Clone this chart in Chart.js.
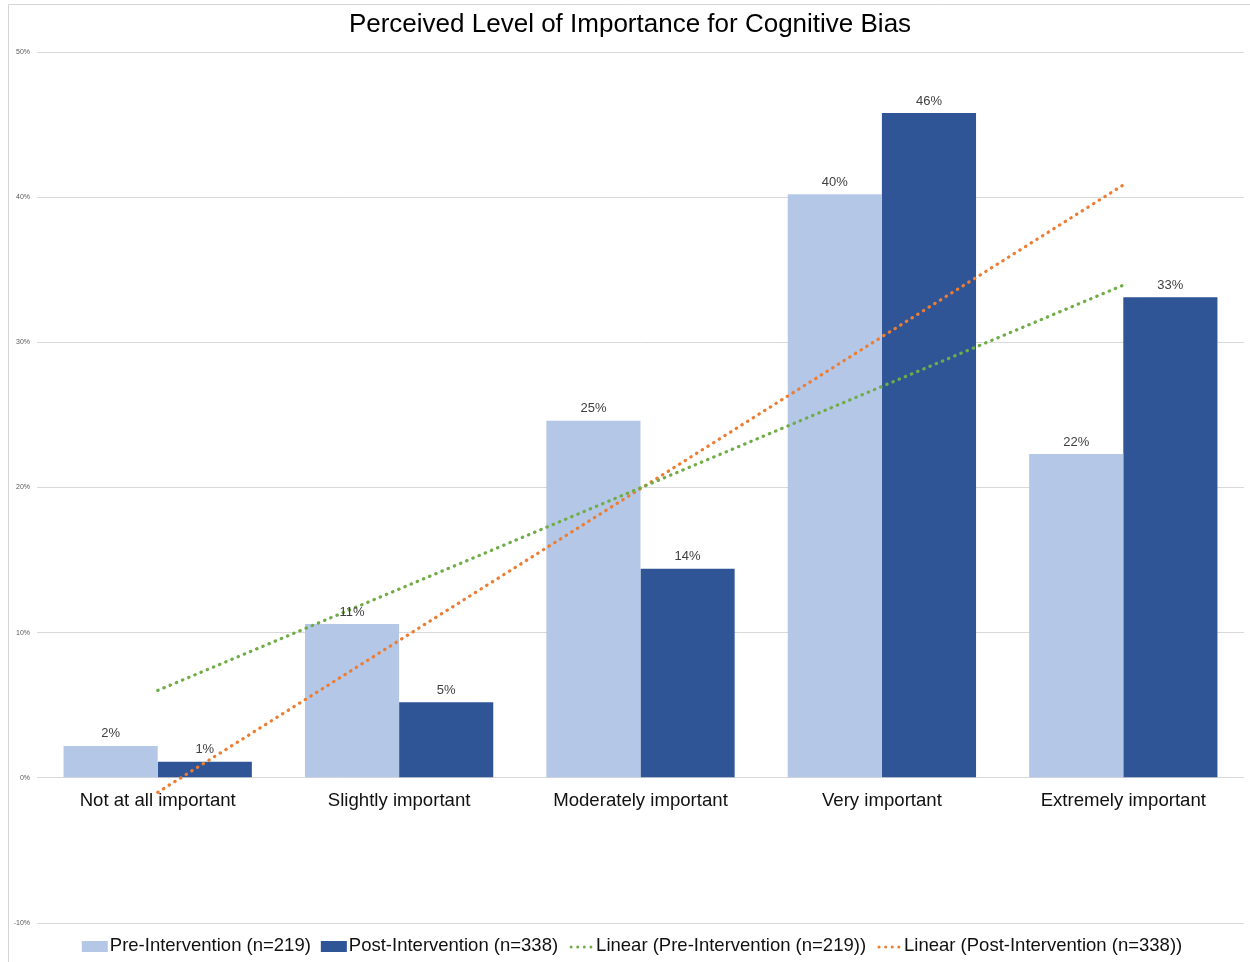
<!DOCTYPE html>
<html>
<head>
<meta charset="utf-8">
<script src="https://cdn.jsdelivr.net/npm/chart.js@4.4.1/dist/chart.umd.min.js"></script>
<style>
  html, body { margin: 0; padding: 0; background: #ffffff; }
  #wrap { width: 1250px; height: 962px; position: relative; }
</style>
</head>
<body>
<div id="wrap"><canvas id="chart" width="1250" height="962"></canvas></div>
<script>
// Survey answers, share of respondents (%)
const categories = ['Not at all important', 'Slightly important', 'Moderately important', 'Very important', 'Extremely important'];
const preValues = [2.2, 10.6, 24.6, 40.2, 22.3];
const postValues = [1.1, 5.2, 14.4, 45.8, 33.1];
const seriesNames = ['Pre-Intervention (n=219)', 'Post-Intervention (n=338)'];
const trendNames = ['Linear (Pre-Intervention (n=219))', 'Linear (Post-Intervention (n=338))'];
const yTicks = [-10, 0, 10, 20, 30, 40, 50];
const chartTitle = 'Perceived Level of Importance for Cognitive Bias';

const FONT = '"Liberation Sans", Arial, Helvetica, sans-serif';
const colors = {
  pre: '#B4C7E7',
  post: '#2F5597',
  preTrend: '#70AD47',
  postTrend: '#ED7D31'
};

// Least-squares line over category positions 1..n
function linearTrend(vals) {
  const n = vals.length;
  const xs = vals.map((_, i) => i + 1);
  const mx = xs.reduce((a, b) => a + b, 0) / n;
  const my = vals.reduce((a, b) => a + b, 0) / n;
  let sxy = 0, sxx = 0;
  xs.forEach((x, i) => { sxy += (x - mx) * (vals[i] - my); sxx += (x - mx) * (x - mx); });
  const slope = sxy / sxx;
  const icpt = my - slope * mx;
  return xs.map(x => icpt + slope * x);
}

// Outer frame lines of the chart box, plus the heading
const framePlugin = {
  id: 'frame',
  beforeDraw(chart) {
    const ctx = chart.ctx;
    ctx.save();
    ctx.strokeStyle = '#d4d4d4';
    ctx.lineWidth = 1;
    ctx.beginPath();
    ctx.moveTo(8.5, 962);
    ctx.lineTo(8.5, 4.5);
    ctx.lineTo(1250, 4.5);
    ctx.stroke();
    ctx.font = '26px ' + FONT;
    ctx.fillStyle = '#000000';
    ctx.textAlign = 'center';
    ctx.textBaseline = 'middle';
    ctx.fillText(chartTitle, 630, 25);
    ctx.restore();
  }
};

// Value labels above bars and category names beside the zero line
const labelPlugin = {
  id: 'barLabels',
  afterDatasetsDraw(chart) {
    const ctx = chart.ctx;
    ctx.save();
    ctx.font = '13px ' + FONT;
    ctx.fillStyle = '#404040';
    ctx.textAlign = 'center';
    ctx.textBaseline = 'middle';
    [0, 1].forEach(di => {
      const meta = chart.getDatasetMeta(di);
      const vals = chart.data.datasets[di].data;
      meta.data.forEach((bar, i) => {
        ctx.fillText(Math.round(vals[i]) + '%', bar.x, bar.y - 12);
      });
    });
    const xs = chart.scales.x;
    const y0 = chart.scales.y.getPixelForValue(0);
    ctx.font = '18.6px ' + FONT;
    ctx.fillStyle = '#111111';
    categories.forEach((c, i) => {
      ctx.fillText(c, xs.getPixelForValue(i), y0 + 23);
    });
    ctx.restore();
  }
};

// Bottom legend: swatches for bars, dotted strokes for trend lines
const legendPlugin = {
  id: 'bottomLegend',
  afterDraw(chart) {
    const ctx = chart.ctx;
    const items = [
      { text: seriesNames[0], kind: 'box', color: colors.pre },
      { text: seriesNames[1], kind: 'box', color: colors.post },
      { text: trendNames[0], kind: 'dots', color: colors.preTrend },
      { text: trendNames[1], kind: 'dots', color: colors.postTrend }
    ];
    ctx.save();
    ctx.font = '18.5px ' + FONT;
    const sw = 26, gapIn = 2, gapOut = 10;
    const widths = items.map(it => sw + gapIn + ctx.measureText(it.text).width);
    const total = widths.reduce((a, b) => a + b, 0) + gapOut * (items.length - 1);
    let x = 632 - total / 2;
    const cy = 946;
    ctx.textBaseline = 'middle';
    ctx.textAlign = 'left';
    items.forEach((it, k) => {
      ctx.fillStyle = it.color;
      if (it.kind === 'box') {
        ctx.fillRect(x, cy - 5, sw, 11);
      } else {
        for (let d = 0; d < 4; d++) {
          ctx.beginPath();
          ctx.arc(x + 3 + d * 6.6, cy + 1, 1.5, 0, Math.PI * 2);
          ctx.fill();
        }
      }
      ctx.fillStyle = '#111111';
      ctx.fillText(it.text, x + sw + gapIn, cy);
      x += widths[k] + gapOut;
    });
    ctx.restore();
  }
};

const dotted = { borderWidth: 3.2, borderDash: [0.5, 6.2], borderCapStyle: 'round', pointRadius: 0, pointHoverRadius: 0, fill: false, tension: 0 };

new Chart(document.getElementById('chart'), {
  type: 'bar',
  data: {
    labels: categories,
    datasets: [
      { label: seriesNames[0], data: preValues, backgroundColor: colors.pre, order: 2 },
      { label: seriesNames[1], data: postValues, backgroundColor: colors.post, order: 2 },
      Object.assign({ type: 'line', label: trendNames[0], data: linearTrend(preValues), borderColor: colors.preTrend, order: 1 }, dotted),
      Object.assign({ type: 'line', label: trendNames[1], data: linearTrend(postValues), borderColor: colors.postTrend, order: 1 }, dotted)
    ]
  },
  options: {
    responsive: false,
    animation: false,
    layout: { padding: { left: 0, right: 6, top: 52, bottom: 39 } },
    datasets: { bar: { categoryPercentage: 0.78, barPercentage: 1.0 } },
    plugins: {
      legend: { display: false },
      tooltip: { enabled: false },
      title: { display: false }
    },
    scales: {
      x: { display: false, offset: true },
      y: {
        min: -10, max: 50,
        afterBuildTicks(scale) { scale.ticks = yTicks.map(v => ({ value: v })); },
        afterFit(scale) { scale.width = 37; },
        border: { display: false },
        grid: { color: '#d9d9d9', lineWidth: 1, drawTicks: false },
        ticks: {
          padding: 7,
          color: '#595959',
          font: { family: FONT, size: 7 },
          callback: v => v + '%'
        }
      }
    }
  },
  plugins: [framePlugin, labelPlugin, legendPlugin]
});
</script>
</body>
</html>
